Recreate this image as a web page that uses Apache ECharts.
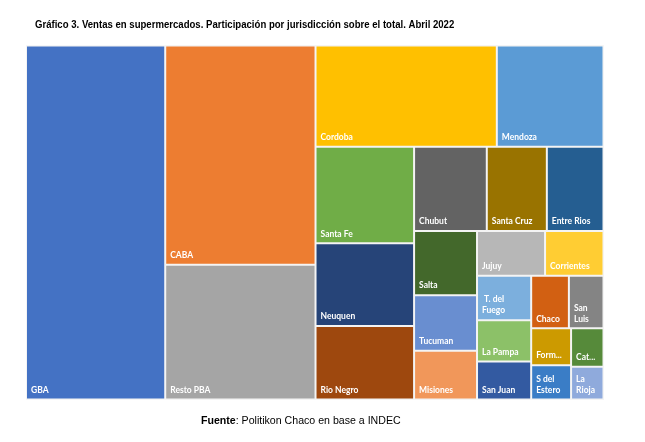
<!DOCTYPE html>
<html><head><meta charset="utf-8">
<script src="https://cdn.jsdelivr.net/npm/echarts@6/dist/echarts.min.js"></script>
<style>html,body{margin:0;padding:0;background:#fff}#c{width:645px;height:442px}</style>
</head><body><div id="c"></div>
<script>
const names = ['GBA','CABA','Resto PBA','Cordoba','Mendoza','Santa Fe','Neuquen','Rio Negro','Chubut','Santa Cruz','Entre Rios','Salta','Tucuman','Misiones','Jujuy','Corrientes','T. del Fuego','La Pampa','San Juan','Chaco','San Luis','Formosa','S del Estero','Catamarca','La Rioja'];
const values = [24.11,16.12,9.91,8.99,5.29,4.65,3.99,3.54,2.99,2.47,2.33,1.98,1.71,1.50,1.49,1.28,1.18,1.09,1.01,0.97,0.89,0.72,0.67,0.61,0.52];
const labels = ['GBA','CABA','Resto PBA','Cordoba','Mendoza','Santa Fe','Neuquen','Rio Negro','Chubut','Santa Cruz','Entre Rios','Salta','Tucuman','Misiones','Jujuy','Corrientes',' T. del\nFuego','La Pampa','San Juan','Chaco','San\nLuis','Form...','S del\nEstero','Cat...','La\nRioja'];
const colors = ['#4472C4','#ED7D31','#A5A5A5','#FFC000','#5B9BD5','#70AD47','#264478','#9E480E','#636363','#997300','#255E91','#43682B','#698ED0','#F1975A','#B7B7B7','#FFCD33','#7CAFDD','#8CC168','#335AA1','#D26012','#848484','#CC9A00','#3A7DC6','#568A3A','#8FAADC'];
// grouping of jurisdictions into nested blocks (as arranged in the original treemap)
const groups = ['GBA', [['CABA','Resto PBA'], [['Cordoba','Mendoza'], [['Santa Fe','Neuquen','Rio Negro'], [['Chubut','Santa Cruz','Entre Rios'], [['Salta','Tucuman','Misiones'], [['Jujuy','Corrientes'], [['T. del Fuego','La Pampa','San Juan'], [['Chaco','San Luis'], [['Formosa','S del Estero'], ['Catamarca','La Rioja']]]]]]]]]]];

function build(node) {
  if (typeof node === 'string') {
    const i = names.indexOf(node);
    return {
      name: node, value: values[i],
      label: { formatter: labels[i] },
      itemStyle: { color: colors[i], borderWidth: 1, borderColor: '#f4f4f4', gapWidth: 0 }
    };
  }
  return { name: '', children: node.map(build), itemStyle: { borderWidth: 0, gapWidth: 0, color: '#f4f4f4' } };
}

const chart = echarts.init(document.getElementById('c'), null, { renderer: 'canvas' });
chart.setOption({
  animation: false,
  backgroundColor: '#fff',
  graphic: [
    { type: 'text', x: 35, y: 20, scaleX: 0.913, style: { text: 'Gráfico 3. Ventas en supermercados. Participación por jurisdicción sobre el total. Abril 2022', font: 'bold 10.5px "Liberation Sans", Arial, sans-serif', fill: '#000' } },
    { type: 'text', left: 201, top: 416, style: { text: '{b|Fuente}: Politikon Chaco en base a INDEC', font: '10.6px "Liberation Sans", Arial, sans-serif', fill: '#000', rich: { b: { fontWeight: 'bold', fontSize: 10.6, fontFamily: '"Liberation Sans", Arial, sans-serif' } } } }
  ],
  series: [{
    type: 'treemap',
    left: 26, top: 45.5, width: 577.5, height: 354,
    roam: false, nodeClick: false, sort: false, squareRatio: 0.001,
    visibleMin: 0,
    breadcrumb: { show: false },
    itemStyle: { borderWidth: 0, gapWidth: 0, borderColor: '#f4f4f4' },
    upperLabel: { show: false },
    label: {
      show: true, position: 'insideBottomLeft', distance: 0, padding: [0, 0, 3, 4],
      color: '#fff', fontSize: 8.5, fontWeight: 'bold', fontFamily: 'Lato, sans-serif', lineHeight: 11
    },
    emphasis: { disabled: true },
    data: groups.map(build)
  }]
});
</script></body></html>
